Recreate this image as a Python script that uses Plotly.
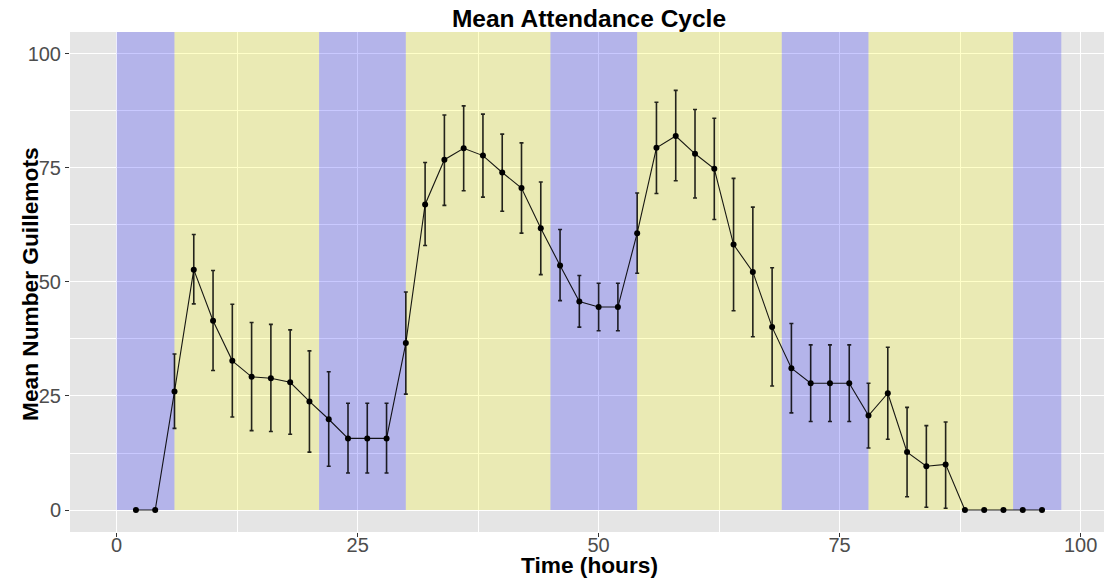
import plotly.graph_objects as go

hours = list(range(2, 97, 2))
mean_birds = [0, 0, 26.0, 52.7, 41.5, 32.7, 29.2, 28.9, 28.0, 23.8,
              19.9, 15.7, 15.7, 15.7, 36.6, 67.0, 76.8, 79.3, 77.7, 74.0,
              70.6, 61.8, 53.6, 45.7, 44.5, 44.5, 60.7, 79.4, 82.0, 78.1,
              74.8, 58.2, 52.2, 40.1, 31.1, 27.8, 27.8, 27.8, 20.7, 25.6,
              12.7, 9.6, 10.0, 0, 0, 0, 0, 0]
err_upper = [0, 0, 8.2, 7.7, 11.0, 12.4, 11.9, 11.8, 11.5, 11.1,
             10.4, 7.7, 7.7, 7.7, 11.2, 9.2, 9.8, 9.3, 9.1, 8.4,
             9.9, 10.1, 7.9, 5.7, 5.2, 5.2, 8.8, 10.0, 10.0, 9.7,
             11.1, 14.5, 14.2, 13.0, 9.8, 8.4, 8.4, 8.4, 7.1, 10.1,
             9.8, 8.9, 9.3, 0, 0, 0, 0, 0]
err_lower = [0, 0, 8.1, 7.5, 10.9, 12.3, 11.8, 11.7, 11.4, 11.1,
             10.3, 7.6, 7.6, 7.6, 11.2, 9.0, 10.0, 9.3, 9.1, 8.5,
             9.9, 10.2, 7.7, 5.6, 5.2, 5.2, 8.8, 10.0, 9.8, 9.7,
             11.1, 14.5, 14.2, 12.9, 9.8, 8.4, 8.4, 8.4, 7.1, 10.1,
             9.8, 9.0, 9.6, 0, 0, 0, 0, 0]

period_start = [0, 6, 21, 30, 45, 54, 69, 78, 93]
period_end = [6, 21, 30, 45, 54, 69, 78, 93, 98]
period_kind = ["night", "day", "night", "day", "night", "day", "night", "day", "night"]
period_fill = {"night": "rgba(0,0,255,0.21)", "day": "rgba(255,255,0,0.21)"}

x_ticks = [0, 25, 50, 75, 100]
y_ticks = [0, 25, 50, 75, 100]

FONT = "Liberation Sans, Arial, sans-serif"
Y_RANGE = [-4.82, 104.8]

fig = go.Figure()

shapes = []
for s, e, k in zip(period_start, period_end, period_kind):
    shapes.append(dict(type="rect", xref="x", yref="y", x0=s, x1=e, y0=0, y1=Y_RANGE[1],
                       fillcolor=period_fill[k], line=dict(width=0), layer="between"))

fig.add_trace(go.Scatter(
    x=hours, y=mean_birds, mode="lines+markers",
    line=dict(color="rgba(0,0,0,0.9)", width=1.1),
    marker=dict(color="black", size=6),
    error_y=dict(type="data", symmetric=False, array=err_upper, arrayminus=err_lower,
                 color="rgba(0,0,0,0.85)", thickness=1.6, width=2),
    showlegend=False,
))

fig.update_layout(
    width=1104, height=582,
    margin=dict(l=70, r=0, t=32, b=50, autoexpand=False),
    paper_bgcolor="white",
    plot_bgcolor="#E5E5E5",
    shapes=shapes,
    title=dict(text="<b>Mean Attendance Cycle</b>", x=589 / 1104, xanchor="center",
               y=1 - 18 / 582, yanchor="middle",
               font=dict(family=FONT, size=24.5, color="black")),
    font=dict(family=FONT),
    annotations=[
        dict(text="<b>Time (hours)</b>", xref="paper", yref="paper",
             x=(589 - 70) / 1034, y=-(565 - 532) / 500, xanchor="center", yanchor="middle",
             showarrow=False, font=dict(family=FONT, size=22.7, color="black")),
        dict(text="<b>Mean Number Guillemots</b>", xref="paper", yref="paper",
             x=(30 - 70) / 1034, y=(532 - 284) / 500, xanchor="center", yanchor="middle",
             textangle=-90, showarrow=False, font=dict(family=FONT, size=22.7, color="black")),
    ],
)

fig.update_xaxes(
    range=[-4.84, 102.43], tickvals=x_ticks, ticktext=[str(v) for v in x_ticks],
    showgrid=True, gridcolor="white", gridwidth=1.2, zeroline=False, automargin=False,
    ticks="outside", ticklen=4, tickcolor="#333333", tickwidth=1,
    tickfont=dict(size=20, color="#4D4D4D"), ticklabelstandoff=-9,
    minor=dict(tickvals=[12.5, 37.5, 62.5, 87.5], showgrid=True, gridcolor="white", gridwidth=0.6, ticks=""),
    showline=False,
)
fig.update_yaxes(
    range=Y_RANGE, tickvals=y_ticks, ticktext=[str(v) for v in y_ticks],
    showgrid=True, gridcolor="white", gridwidth=1.2, zeroline=False, automargin=False,
    ticks="outside", ticklen=4, tickcolor="#333333", tickwidth=1,
    tickfont=dict(size=20, color="#4D4D4D"),
    minor=dict(tickvals=[12.5, 37.5, 62.5, 87.5], showgrid=True, gridcolor="white", gridwidth=0.6, ticks=""),
    showline=False,
)

fig.write_html("out.html", config={"displayModeBar": False},
               post_script="document.body.style.margin='0';document.body.style.overflow='hidden';")
